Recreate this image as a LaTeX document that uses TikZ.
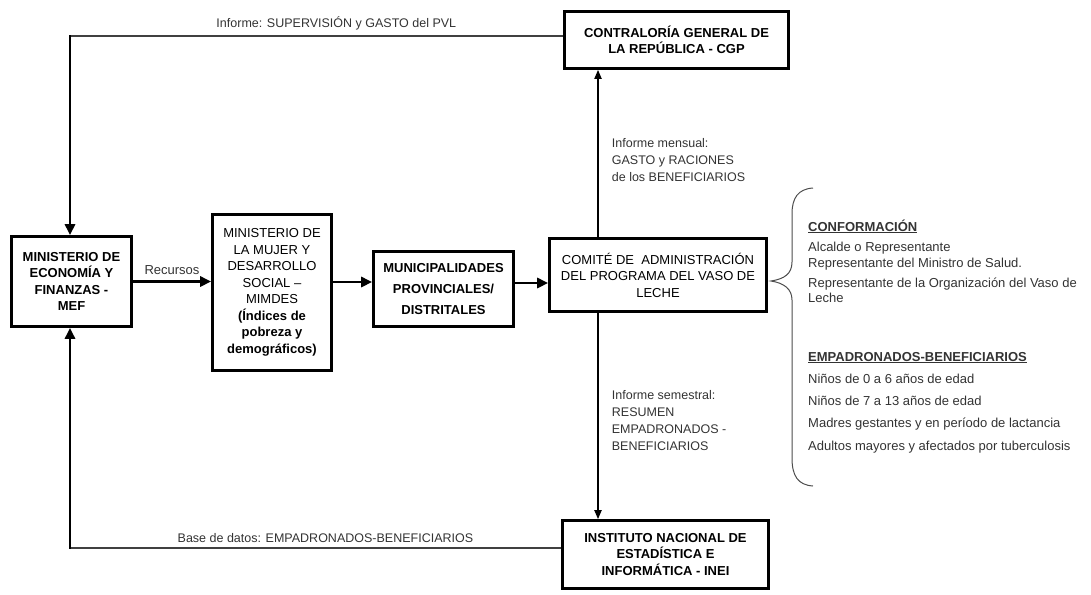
\documentclass[tikz,border=0pt]{standalone}
\usepackage{fontspec}
\setmainfont{Liberation Sans}
\usetikzlibrary{arrows.meta}
\tikzset{
  box/.style={draw, line width=2.6pt, align=center, inner sep=1pt, fill=white,
    font=\fontsize{13}{16.5}\selectfont},
  mainarrow/.style={line width=2.6pt, -{Triangle[length=11pt,width=10pt]}},
  thinarrow/.style={line width=1.8pt, -{Triangle[length=9pt,width=7pt]}},
  loopline/.style={line width=1.4pt, black!75},
  lbl/.style={font=\fontsize{12.5}{17}\selectfont, text=black!80, inner sep=0pt},
  item/.style={font=\fontsize{13}{15}\selectfont, text=black!80, inner sep=0pt, anchor=base west},
  bracestyle/.style={line width=1pt, black!70},
}
\begin{document}
\begin{tikzpicture}[x=1pt,y=-1pt]
\useasboundingbox (0,0) rectangle (1091,594);

% boxes
\node[box, minimum width=120pt, minimum height=90pt] (mef) at (71.5,281.5)
  {\textbf{MINISTERIO DE}\\\textbf{ECONOMÍA Y}\\\textbf{FINANZAS -}\\\textbf{MEF}};
\node[box, minimum width=119pt, minimum height=156pt] (mimdes) at (272,292.5)
  {MINISTERIO DE\\LA MUJER Y\\DESARROLLO\\SOCIAL –\\MIMDES\\\textbf{(Índices de}\\\textbf{pobreza y}\\\textbf{demográficos)}};
\node[box, minimum width=140pt, minimum height=75pt] (muni) at (443.5,289)
  {\textbf{MUNICIPALIDADES}\\[4.5pt]\textbf{PROVINCIALES/}\\[4.5pt]\textbf{DISTRITALES}};
\node[box, minimum width=217pt, minimum height=73pt] (comite) at (658,275)
  {COMITÉ DE\ \ ADMINISTRACIÓN\\DEL PROGRAMA DEL VASO DE\\LECHE};
\node[box, minimum width=224pt, minimum height=57pt] (cgp) at (676.5,40)
  {\textbf{CONTRALORÍA GENERAL DE}\\\textbf{LA REPÚBLICA - CGP}};
\node[box, minimum width=206pt, minimum height=68pt] (inei) at (665.5,554.5)
  {\textbf{INSTITUTO NACIONAL DE}\\\textbf{ESTADÍSTICA E}\\\textbf{INFORMÁTICA - INEI}};

% helper coordinates
\coordinate (tl) at (70,36);
\coordinate (bl) at (70,548);
\coordinate (vx) at (598,0);
\coordinate (r2) at (0,282);
\coordinate (r3) at (0,283);

% top loop
\draw[loopline] ([yshift=4pt]cgp.west) -- node[lbl, above=5pt, pos=0.46] {Informe: SUPERVISIÓN y GASTO del PVL} (tl);
\draw[mainarrow] ([yshift=0.7pt]tl) -- (tl |- mef.north);

% bottom loop
\draw[loopline] ([yshift=6.5pt]inei.west) -- node[lbl, above=5pt, pos=0.48] {Base de datos: EMPADRONADOS-BENEFICIARIOS} (bl);
\draw[mainarrow] ([yshift=-0.7pt]bl) -- (bl |- mef.south);

% main flow
\draw[mainarrow] (mef.east) -- node[lbl, font=\fontsize{13}{15}\selectfont, above=6pt] {Recursos} (mef.east -| mimdes.west);
\draw[mainarrow] (mimdes.east |- r2) -- (muni.west |- r2);
\draw[mainarrow] (muni.east |- r3) -- (comite.west |- r3);

% vertical reports
\draw[thinarrow] (comite.north -| vx) -- node[lbl, anchor=west, xshift=13pt, pos=0.46, align=left]
  {Informe mensual:\\GASTO y RACIONES\\de los BENEFICIARIOS} (cgp.south -| vx);
\draw[thinarrow] (comite.south -| vx) -- node[lbl, anchor=west, xshift=13pt, pos=0.52, align=left]
  {Informe semestral:\\RESUMEN\\EMPADRONADOS -\\BENEFICIARIOS} (inei.north -| vx);

% brace
\draw[bracestyle] (813,188) .. controls (798,189) and (792,198) .. (792,214)
  -- (792,262) .. controls (792,274) and (784,279) .. (771,281)
  .. controls (784,283) and (792,289) .. (792,300)
  -- (792,458) .. controls (792,476) and (798,485) .. (813,486);

% right column
\node[item] (c0) at (808,231) {\underline{\textbf{CONFORMACIÓN}}};
\node[item] (c1) at (808,251) {Alcalde o Representante};
\node[item] (c2) at (808,267) {Representante del Ministro de Salud.};
\node[item] (c3) at (808,287) {Representante de la Organización del Vaso de};
\node[item] (c4) at (808,302) {Leche};
\node[item] (e0) at (808,361) {\underline{\textbf{EMPADRONADOS-BENEFICIARIOS}}};
\node[item] (e1) at (808,383) {Niños de 0 a 6 años de edad};
\node[item] (e2) at (808,405) {Niños de 7 a 13 años de edad};
\node[item] (e3) at (808,427) {Madres gestantes y en período de lactancia};
\node[item] (e4) at (808,450) {Adultos mayores y afectados por tuberculosis};
\end{tikzpicture}
\end{document}
